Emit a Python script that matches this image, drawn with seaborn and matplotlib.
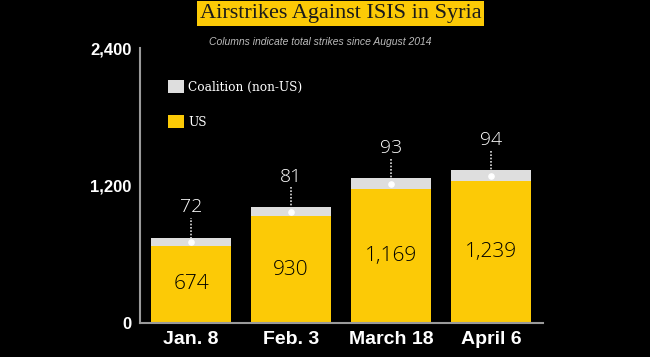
import matplotlib
matplotlib.use("Agg")
import matplotlib.pyplot as plt
from matplotlib.patches import Patch
import seaborn as sns
import pandas as pd

dates = ["Jan. 8", "Feb. 3", "March 18", "April 6"]
us_strikes = [674, 930, 1169, 1239]
coalition_strikes = [72, 81, 93, 94]
y_ticks = [0, 1200, 2400]
y_tick_labels = ["0", "1,200", "2,400"]

yellow = "#FCCA06"
grey = "#DEDEDE"
axis_grey = "#9A9A9A"

df = pd.DataFrame({"date": dates, "US": us_strikes, "Coalition": coalition_strikes})
df["Total"] = df["US"] + df["Coalition"]

sns.set_style("dark")
fig = plt.figure(figsize=(6.5, 3.57), dpi=100, facecolor="black")
ax = fig.add_axes([0.2154, 0.0952, 0.62, 0.770])
ax.set_facecolor("black")

sns.barplot(data=df, x="date", y="Total", color=grey, width=0.8, saturation=1,
            edgecolor="none", linewidth=0, ax=ax)
sns.barplot(data=df, x="date", y="US", color=yellow, width=0.8, saturation=1,
            edgecolor="none", linewidth=0, ax=ax)

for i, row in df.iterrows():
    ax.text(i, row["US"] / 2, f"{row['US']:,}", ha="center", va="center",
            fontsize=15, color="black", family="Open Sans", fontweight="light")
    dot_y = row["Total"] - row["Coalition"] / 2
    ax.plot([i, i], [dot_y, row["Total"] + 175], linestyle=(0, (1, 1)), color="#DDDDDD", lw=1.2)
    ax.scatter([i], [dot_y], s=14, color="white", zorder=5)
    ax.text(i, row["Total"] + 265, str(row["Coalition"]), ha="center", va="center",
            fontsize=14, color="white", family="Open Sans", fontweight="light")

ax.set_xlim(-0.51, 3.52)
ax.set_ylim(0, 2400)
ax.set_yticks(y_ticks)
ax.set_yticklabels(y_tick_labels, fontsize=12, fontweight="bold", color="white",
                   family="Liberation Sans")
ax.set_xticks(range(len(dates)))
ax.set_xticklabels(dates, fontsize=14, fontweight="bold", color="white",
                   family="Liberation Sans")
ax.set_xticks([0.5, 1.5, 2.5, 3.5], minor=True)
ax.tick_params(axis="x", which="major", length=0, pad=6)
ax.tick_params(axis="x", which="minor", direction="in", length=5, color=axis_grey, width=1.2)
ax.tick_params(axis="y", direction="in", length=7, color=axis_grey, width=1.2, pad=6)
ax.set_xlabel("")
ax.set_ylabel("")
ax.grid(False)
for side in ["top", "right"]:
    ax.spines[side].set_visible(False)
for side in ["left", "bottom"]:
    ax.spines[side].set_visible(True)
    ax.spines[side].set_color(axis_grey)
    ax.spines[side].set_linewidth(1.5)

handles = [Patch(facecolor=grey, edgecolor="none"), Patch(facecolor=yellow, edgecolor="none")]
leg = ax.legend(handles, ["Coalition (non-US)", "US"], loc="upper left",
                bbox_to_anchor=(0.055, 0.905), frameon=False, handlelength=1.3,
                handleheight=1.3, handletextpad=0.35, labelspacing=1.75, borderpad=0,
                prop={"family": "DejaVu Serif", "size": 8.7})
for t in leg.get_texts():
    t.set_color("white")

fig.text(0.524, 0.962, "Airstrikes Against ISIS in Syria", ha="center", va="center",
         fontsize=16, family="Liberation Serif", color="#1a1a1a",
         bbox=dict(facecolor=yellow, edgecolor="none", pad=2))
fig.text(0.492, 0.882, "Columns indicate total strikes since August 2014", ha="center",
         va="center", fontsize=7.5, style="italic", color="#BBBBBB", family="Liberation Sans")

fig.savefig("out.png", dpi=100, facecolor="black")
